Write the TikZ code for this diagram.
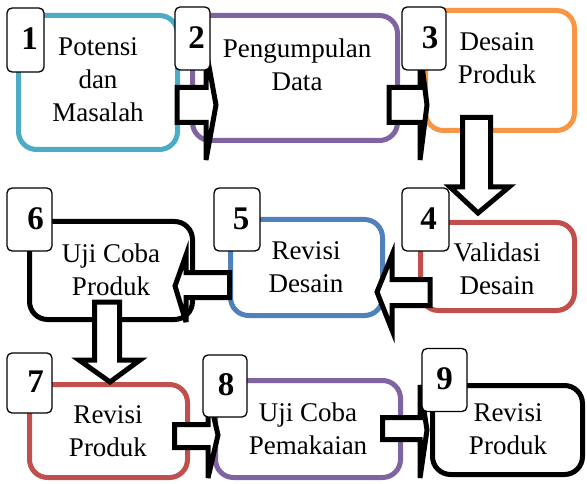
\documentclass[tikz,border=0pt]{standalone}
\usepackage{fontspec}
\setmainfont{Liberation Serif}
\definecolor{cteal}{HTML}{4BACC6}
\definecolor{cpurple}{HTML}{8064A2}
\definecolor{corange}{HTML}{F79646}
\definecolor{cred}{HTML}{C0504D}
\definecolor{cblue}{HTML}{4F81BD}
\begin{document}
\begin{tikzpicture}[x=1pt,y=-1pt,
  bigbox/.style={draw, line width=5pt, rounded corners=18pt, minimum width=#1, inner sep=0pt},
  lbl/.style={draw, fill=white, line width=1.3pt, rounded corners=5pt, minimum width=#1, inner sep=0pt, minimum height=63pt},
  txt/.style={align=center, font=\fontsize{27}{33}\selectfont, inner sep=0pt},
  num/.style={font=\fontsize{33}{38}\selectfont\bfseries, inner sep=0pt},
  blockarrow/.style={draw=black, fill=white, line width=5pt, miter limit=6}]
\useasboundingbox (0,0) rectangle (587,484);
% boxes
\node[bigbox=159pt, draw=cteal, minimum height=134pt] (b1) at (98,82.5) {};
\node[bigbox=205pt, draw=cpurple, minimum height=125pt] (b2) at (295,78) {};
\node[bigbox=149pt, draw=corange, minimum height=120pt] (b3) at (500,70.5) {};
\node[bigbox=154pt, draw=cred, minimum height=88pt] (b4) at (497.5,266.5) {};
\node[bigbox=152pt, draw=cblue, minimum height=96pt] (b5) at (306.5,267.5) {};
\node[bigbox=163pt, draw=black, minimum height=98pt] (b6) at (111,270.5) {};
\node[bigbox=158pt, draw=cred, minimum height=93pt] (b7) at (108.5,431) {};
\node[bigbox=185pt, draw=cpurple, minimum height=97pt] (b8) at (308,429) {};
\node[bigbox=150pt, draw=black, minimum height=89pt] (b9) at (507.5,430) {};
% texts
\node[txt] (t1) at (98,80) {Potensi\\dan\\Masalah};
\node[txt] (t2) at (297,64.5) {Pengumpulan\\Data};
\node[txt] (t3) at (497,58.5) {Desain\\Produk};
\node[txt] (t4) at (497,268.5) {Validasi\\Desain};
\node[txt] (t5) at (306,267.5) {Revisi\\Desain};
\node[txt] (t6) at (111,269.5) {Uji Coba\\Produk};
\node[txt] (t7) at (108,431.5) {Revisi\\Produk};
\node[txt] (t8) at (308,429) {Uji Coba\\Pemakaian};
\node[txt] (t9) at (508,429) {Revisi\\Produk};
% block arrows
\draw[blockarrow] (177,87.5) -- (206,87.5) -- (206,50) -- (216,105) -- (206,160) -- (206,122.5) -- (177,122.5) -- cycle;
\draw[blockarrow] (389,87.5) -- (420,87.5) -- (420,50) -- (427,105) -- (420,160) -- (420,122.5) -- (389,122.5) -- cycle;
\draw[blockarrow] (462.5,117.5) -- (490.5,117.5) -- (490.5,187) -- (509,187) -- (478,213) -- (450,187) -- (462.5,187) -- cycle;
\draw[blockarrow] (430,279.5) -- (392,279.5) -- (392,255) -- (377,292) -- (392,330) -- (392,305.5) -- (430,305.5) -- cycle;
\draw[blockarrow] (229.5,272.5) -- (186,272.5) -- (186,255) -- (175,286) -- (186,322) -- (186,297.5) -- (229.5,297.5) -- cycle;
\draw[blockarrow] (94.5,302) -- (119.5,302) -- (119.5,360) -- (140,360) -- (110,382) -- (79,360) -- (94.5,360) -- cycle;
\draw[blockarrow] (174.5,424.5) -- (208,424.5) -- (208,392) -- (218,435) -- (208,478) -- (208,447.5) -- (174.5,447.5) -- cycle;
\draw[blockarrow] (382.5,417.5) -- (420,417.5) -- (420,385) -- (427,430) -- (420,478) -- (420,439.5) -- (382.5,439.5) -- cycle;
% number labels
\node[lbl=37pt, minimum height=64pt] (l1) at (25.5,40) {};
\node[num] at ([xshift=4pt,yshift=1pt]l1.center) {1};
\node[lbl=35pt] (l2) at (192.5,38.5) {};
\node[num] at ([xshift=4pt,yshift=1pt]l2.center) {2};
\node[lbl=44pt] (l3) at (424,38.5) {};
\node[num] at ([xshift=6pt,yshift=1pt]l3.center) {3};
\node[lbl=47pt] (l4) at (425.5,219.5) {};
\node[num] at ([xshift=3pt,yshift=1pt]l4.center) {4};
\node[lbl=46pt] (l5) at (237,219.5) {};
\node[num] at ([xshift=4pt,yshift=1pt]l5.center) {5};
\node[lbl=45pt] (l6) at (29.5,219.5) {};
\node[num] at ([xshift=6pt,yshift=1pt]l6.center) {6};
\node[lbl=45pt, minimum height=60pt] (l7) at (29.5,383) {};
\node[num] at ([xshift=6pt,yshift=1pt]l7.center) {7};
\node[lbl=44pt, minimum height=62pt] (l8) at (225,386) {};
\node[num] at ([xshift=1pt,yshift=1pt]l8.center) {8};
\node[lbl=45pt] (l9) at (444.5,380) {};
\node[num] at ([xshift=0pt,yshift=1pt]l9.center) {9};
\end{tikzpicture}
\end{document}
